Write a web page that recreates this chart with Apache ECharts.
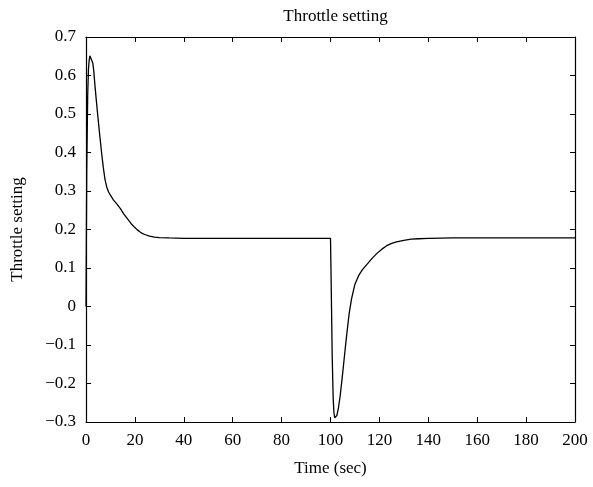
<!DOCTYPE html>
<html>
<head>
<meta charset="utf-8">
<script src="https://cdn.jsdelivr.net/npm/echarts@6/dist/echarts.min.js"></script>
<style>html,body{margin:0;padding:0;background:#fff}#c{width:593px;height:487px}</style>
</head>
<body>
<div id="c"></div>
<script>
var times = [0, 0.3, 0.7, 1.0, 1.3, 1.6, 2.0, 2.4, 2.8, 3.2, 3.7, 4.3, 5.0, 5.7, 6.4, 7.1, 7.8, 8.5, 9.2, 9.8, 10.5, 11.2, 12.5, 14, 15.5, 17.3, 18.5, 20, 21, 22, 23, 24, 26, 28, 30, 34, 40, 50, 60, 80, 100, 100.3, 100.7, 101.1, 101.4, 101.7, 102.1, 102.6, 103.2, 103.9, 104.7, 105.6, 106.6, 107.6, 108.6, 110, 111.5, 113, 115, 117, 119, 121, 123, 125, 127, 130, 133, 136, 140, 150, 170, 200];
var throttle = [0, 0.35, 0.55, 0.615, 0.64, 0.651, 0.653, 0.647, 0.632, 0.61, 0.571, 0.53, 0.484, 0.44, 0.398, 0.36, 0.329, 0.31, 0.298, 0.291, 0.284, 0.277, 0.267, 0.255, 0.24, 0.225, 0.215, 0.205, 0.199, 0.194, 0.19, 0.187, 0.183, 0.180, 0.179, 0.178, 0.177, 0.177, 0.177, 0.177, 0.177, 0.05, -0.13, -0.24, -0.275, -0.289, -0.29, -0.283, -0.265, -0.235, -0.19, -0.135, -0.075, -0.02, 0.02, 0.058, 0.08, 0.095, 0.11, 0.125, 0.138, 0.149, 0.158, 0.164, 0.168, 0.172, 0.175, 0.176, 0.177, 0.178, 0.178, 0.178];
var xTicks = {min: 0, max: 200, interval: 20};
var yTicks = {min: -0.3, max: 0.7, interval: 0.1};

var font = 'Liberation Serif';
var pts = times.map(function (t, i) { return [t, throttle[i]]; });
var fmtY = function (v) {
  var s = (Math.round(v * 10) / 10).toString();
  if (s === '-0') s = '0';
  return s.replace('-', '\u2212');
};
var axisLine = {show: true, onZero: false, lineStyle: {color: '#000', width: 1.2}};
var tick = {show: true, inside: true, length: 5, lineStyle: {color: '#000', width: 1}};
var chart = echarts.init(document.getElementById('c'));
chart.setOption({
  animation: false,
  backgroundColor: '#fff',
  title: {text: 'Throttle setting', left: 330.5, textAlign: 'center', top: 3,
    textStyle: {fontFamily: font, fontSize: 17, fontWeight: 'normal', color: '#000'}},
  grid: {left: 86, right: 18, top: 37, bottom: 65},
  xAxis: [{
    type: 'value', min: xTicks.min, max: xTicks.max, interval: xTicks.interval,
    name: 'Time (sec)', nameLocation: 'middle', nameGap: 38,
    nameTextStyle: {fontFamily: font, fontSize: 17, color: '#000'},
    axisLine: axisLine, axisTick: tick, splitLine: {show: false},
    axisLabel: {fontFamily: font, fontSize: 17, color: '#000', margin: 10}
  }, {
    type: 'value', position: 'top', min: xTicks.min, max: xTicks.max, interval: xTicks.interval,
    axisLine: axisLine, axisTick: tick, splitLine: {show: false}, axisLabel: {show: false}
  }],
  yAxis: [{
    type: 'value', min: yTicks.min, max: yTicks.max, interval: yTicks.interval,
    name: 'Throttle setting', nameLocation: 'middle', nameGap: 60,
    nameTextStyle: {fontFamily: font, fontSize: 17, color: '#000'},
    axisLine: axisLine, axisTick: tick, splitLine: {show: false},
    axisLabel: {fontFamily: font, fontSize: 17, color: '#000', margin: 10, formatter: fmtY}
  }, {
    type: 'value', position: 'right', min: yTicks.min, max: yTicks.max, interval: yTicks.interval,
    axisLine: axisLine, axisTick: tick, splitLine: {show: false}, axisLabel: {show: false}
  }],
  series: [{
    type: 'line', data: pts, showSymbol: false, smooth: false,
    lineStyle: {color: '#000', width: 1.3}
  }]
});
</script>
</body>
</html>
